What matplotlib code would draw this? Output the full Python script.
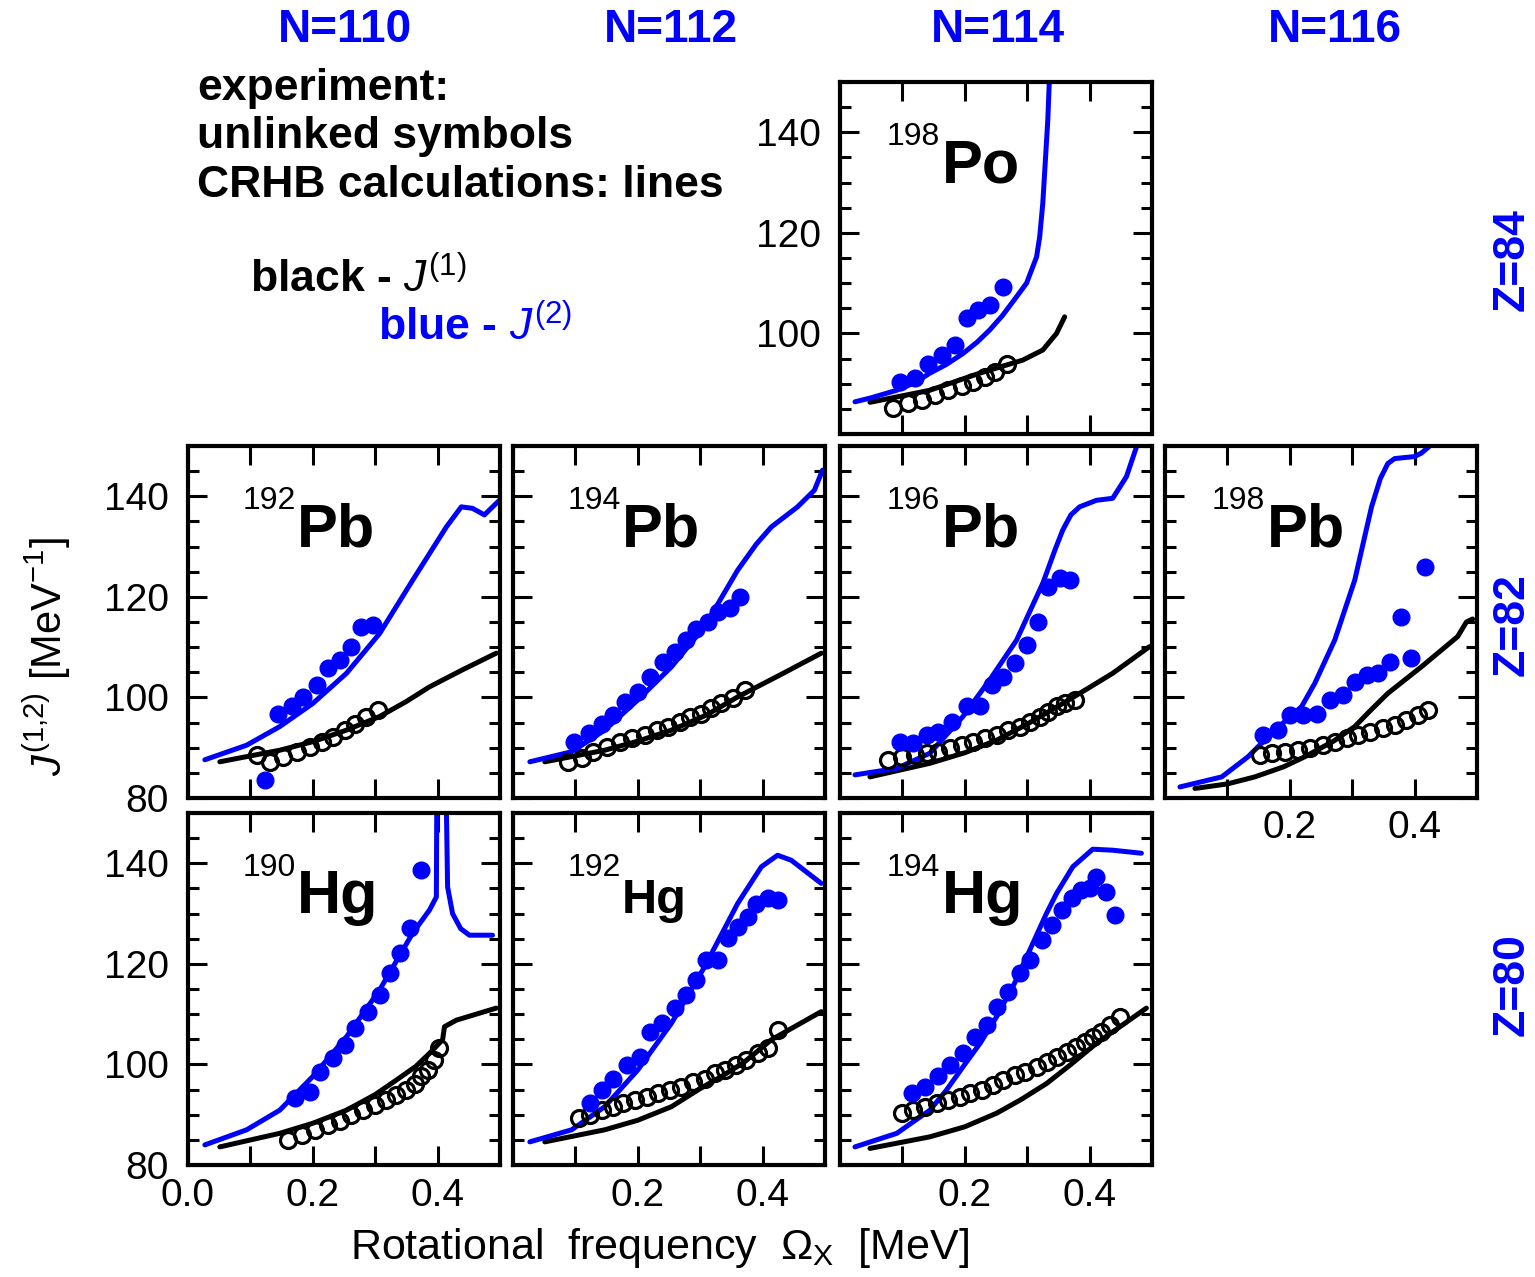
import numpy as np
import matplotlib
matplotlib.use("Agg")
import matplotlib.pyplot as plt
from matplotlib.ticker import MultipleLocator, FixedLocator, FixedFormatter

# =========================
# STYLE
# =========================

plt.rcParams['font.family'] = ['Liberation Sans', 'DejaVu Sans']
plt.rcParams['mathtext.fontset'] = 'custom'
plt.rcParams['mathtext.rm'] = 'Liberation Sans'
plt.rcParams['mathtext.it'] = 'Liberation Sans:italic'
plt.rcParams['mathtext.bf'] = 'Liberation Sans:bold'

BLUE = '#0000ff'

# =========================
# DATA  (x = rotational frequency [MeV], y = J [MeV^-1])
# =========================

# 198Po
po198_c1x = [0.048, 0.144, 0.224, 0.293, 0.325, 0.347, 0.360]
po198_c1y = [86.3, 88.7, 92.1, 94.7, 96.7, 100.0, 103.3]
po198_c2x = [0.024, 0.050, 0.091, 0.120, 0.144, 0.170, 0.197, 0.220, 0.240, 0.260,
             0.283, 0.299, 0.315, 0.320, 0.325, 0.333, 0.336]
po198_c2y = [86.4, 87.2, 88.7, 90.2, 92.1, 93.8, 96.0, 98.3, 100.7, 103.5,
             107.3, 110.0, 115.2, 119.2, 125.9, 142.4, 152.0]
po198_e1x = [0.085, 0.109, 0.131, 0.152, 0.173, 0.195, 0.213, 0.232, 0.248, 0.267]
po198_e1y = [85.1, 86.1, 86.8, 87.8, 88.7, 89.5, 90.4, 91.4, 92.4, 94.0]
po198_e2x = [0.096, 0.120, 0.141, 0.163, 0.184, 0.203, 0.221, 0.240, 0.261]
po198_e2y = [90.4, 91.1, 94.0, 95.7, 97.7, 103.0, 104.7, 105.6, 109.3]

# 192Pb
pb192_c1x = [0.051, 0.147, 0.200, 0.254, 0.307, 0.350, 0.387, 0.440, 0.494]
pb192_c1y = [87.2, 89.5, 91.2, 93.5, 96.2, 99.2, 102.1, 105.5, 108.8]
pb192_c2x = [0.027, 0.094, 0.147, 0.200, 0.254, 0.307, 0.360, 0.414, 0.438, 0.456, 0.475, 0.494, 0.500]
pb192_c2y = [87.6, 90.5, 94.2, 98.8, 104.8, 112.7, 123.3, 133.9, 137.9, 137.6, 136.3, 138.6, 139.3]
pb192_e1x = [0.110, 0.131, 0.153, 0.174, 0.195, 0.214, 0.233, 0.251, 0.267, 0.286, 0.304]
pb192_e1y = [88.5, 87.2, 88.2, 89.2, 90.2, 91.2, 92.2, 93.5, 94.8, 96.2, 97.5]
pb192_e2x = [0.123, 0.145, 0.166, 0.185, 0.206, 0.225, 0.243, 0.262, 0.278, 0.297]
pb192_e2y = [83.6, 96.8, 98.2, 100.1, 102.5, 105.8, 107.4, 110.1, 114.1, 114.4]

# 194Pb
pb194_c1x = [0.051, 0.147, 0.200, 0.254, 0.310, 0.360, 0.430, 0.494]
pb194_c1y = [87.2, 89.5, 91.3, 93.5, 96.5, 100.1, 104.6, 108.8]
pb194_c2x = [0.027, 0.094, 0.147, 0.200, 0.254, 0.307, 0.360, 0.390, 0.414, 0.456, 0.483, 0.496]
pb194_c2y = [87.2, 89.2, 93.5, 99.5, 106.1, 114.1, 125.3, 130.5, 133.9, 137.9, 141.2, 145.2]
pb194_e1x = [0.088, 0.110, 0.128, 0.150, 0.171, 0.190, 0.211, 0.230, 0.248, 0.267, 0.283,
             0.302, 0.318, 0.334, 0.352, 0.371]
pb194_e1y = [87.2, 87.9, 89.2, 90.2, 91.2, 91.9, 92.5, 93.5, 94.2, 95.2, 96.2,
             96.8, 97.8, 98.8, 99.8, 101.5]
pb194_e2x = [0.097, 0.121, 0.142, 0.160, 0.179, 0.200, 0.219, 0.240, 0.259, 0.278, 0.294,
             0.312, 0.328, 0.347, 0.363]
pb194_e2y = [91.2, 92.9, 94.8, 96.5, 99.1, 101.1, 104.1, 107.1, 109.1, 111.4, 113.7,
             115.0, 117.0, 117.7, 120.0]

# 196Pb
pb196_c1x = [0.048, 0.144, 0.200, 0.251, 0.300, 0.357, 0.400, 0.437, 0.496]
pb196_c1y = [84.2, 86.9, 89.0, 91.5, 94.7, 98.8, 102.0, 104.8, 110.1]
pb196_c2x = [0.024, 0.091, 0.144, 0.197, 0.240, 0.283, 0.325, 0.345, 0.357, 0.370, 0.384,
             0.411, 0.437, 0.459, 0.477]
pb196_c2y = [84.6, 85.9, 88.9, 96.2, 103.5, 111.4, 122.7, 129.5, 133.3, 136.3, 137.9,
             139.2, 139.6, 143.9, 150.5]
pb196_e1x = [0.077, 0.099, 0.120, 0.139, 0.157, 0.176, 0.195, 0.213, 0.232, 0.251, 0.269,
             0.288, 0.304, 0.320, 0.333, 0.347, 0.360, 0.376]
pb196_e1y = [87.6, 88.2, 88.5, 88.9, 89.2, 89.9, 90.5, 91.2, 91.9, 92.5, 93.5,
             94.2, 95.2, 96.2, 97.2, 98.2, 98.8, 99.5]
pb196_e2x = [0.096, 0.117, 0.139, 0.157, 0.179, 0.203, 0.224, 0.243, 0.261, 0.280, 0.299,
             0.317, 0.333, 0.352, 0.368]
pb196_e2y = [91.2, 90.9, 92.5, 93.2, 95.2, 98.2, 98.2, 102.5, 104.1, 106.8, 110.4,
             115.0, 122.0, 123.7, 123.3]

# 198Pb
pb198_c1x = [0.048, 0.100, 0.144, 0.190, 0.224, 0.270, 0.304, 0.330, 0.357, 0.411, 0.469, 0.483, 0.493]
pb198_c1y = [81.9, 82.8, 84.2, 86.2, 88.2, 91.3, 94.2, 97.5, 100.8, 106.1, 112.1, 115.0, 115.6]
pb198_c2x = [0.024, 0.091, 0.133, 0.171, 0.219, 0.240, 0.272, 0.304, 0.331, 0.345, 0.357,
             0.368, 0.400, 0.411, 0.429]
pb198_c2y = [82.2, 84.2, 88.2, 92.9, 98.2, 102.8, 111.4, 123.3, 137.9, 143.5, 146.5,
             147.5, 147.9, 148.6, 150.5]
pb198_e1x = [0.152, 0.171, 0.192, 0.213, 0.232, 0.253, 0.272, 0.291, 0.309, 0.328, 0.349,
             0.368, 0.387, 0.405, 0.421]
pb198_e1y = [88.5, 88.9, 89.2, 89.5, 89.9, 90.5, 91.2, 91.9, 92.5, 93.2, 93.9,
             94.5, 95.5, 96.5, 97.5]
pb198_e2x = [0.157, 0.181, 0.200, 0.221, 0.243, 0.264, 0.285, 0.304, 0.323, 0.341, 0.360,
             0.379, 0.395, 0.416]
pb198_e2y = [92.5, 93.5, 96.5, 96.5, 96.8, 99.5, 100.5, 103.1, 104.5, 104.8, 107.1,
             116.0, 107.8, 126.0]

# 190Hg
hg190_c1x = [0.051, 0.147, 0.200, 0.254, 0.300, 0.334, 0.365, 0.387, 0.408, 0.411, 0.430, 0.494]
hg190_c1y = [83.6, 86.3, 88.3, 90.9, 94.0, 96.9, 99.6, 102.2, 104.9, 107.5, 108.8, 111.2]
hg190_c2x = [0.027, 0.094, 0.147, 0.200, 0.254, 0.307, 0.360, 0.387, 0.398, 0.399,
             0.413, 0.416, 0.424, 0.437, 0.451, 0.488]
hg190_c2y = [84.0, 87.0, 90.9, 97.6, 105.5, 114.8, 126.1, 130.7, 133.3, 160.0,
             160.0, 135.3, 130.0, 127.0, 125.7, 125.7]
hg190_e1x = [0.160, 0.182, 0.203, 0.225, 0.243, 0.262, 0.280, 0.299, 0.318, 0.334, 0.350,
             0.363, 0.374, 0.384, 0.395, 0.403]
hg190_e1y = [85.0, 86.0, 87.0, 88.0, 88.8, 89.9, 90.9, 91.9, 92.9, 93.9, 94.9,
             96.2, 97.6, 98.9, 100.9, 103.2]
hg190_e2x = [0.171, 0.195, 0.211, 0.233, 0.251, 0.267, 0.288, 0.307, 0.323, 0.339, 0.355, 0.374]
hg190_e2y = [93.3, 94.6, 98.5, 101.2, 103.9, 107.2, 110.5, 113.8, 118.1, 122.1, 127.1, 138.6]

# 192Hg
hg192_c1x = [0.051, 0.147, 0.200, 0.254, 0.300, 0.334, 0.370, 0.414, 0.494]
hg192_c1y = [84.6, 87.0, 88.9, 91.6, 95.2, 97.6, 100.4, 104.9, 110.5]
hg192_c2x = [0.027, 0.094, 0.147, 0.200, 0.254, 0.307, 0.360, 0.398, 0.424, 0.446, 0.494]
hg192_c2y = [84.6, 87.0, 91.6, 98.9, 108.2, 119.4, 132.0, 139.3, 141.6, 140.6, 136.0]
hg192_e1x = [0.105, 0.123, 0.142, 0.160, 0.176, 0.195, 0.214, 0.232, 0.251, 0.270, 0.288,
             0.307, 0.323, 0.339, 0.358, 0.374, 0.392, 0.408, 0.424]
hg192_e1y = [89.3, 89.9, 90.9, 91.6, 92.3, 92.9, 93.6, 94.3, 94.9, 95.6, 96.6,
             97.2, 98.2, 98.9, 99.9, 100.9, 102.2, 103.2, 106.8]
hg192_e2x = [0.123, 0.142, 0.160, 0.182, 0.203, 0.219, 0.238, 0.259, 0.278, 0.294, 0.310,
             0.328, 0.344, 0.360, 0.376, 0.390, 0.408, 0.424]
hg192_e2y = [92.3, 94.9, 97.2, 99.9, 101.5, 106.5, 108.2, 111.2, 113.8, 116.8, 120.8,
             120.8, 125.1, 127.4, 129.4, 132.0, 133.0, 132.7]

# 194Hg
hg194_c1x = [0.048, 0.144, 0.200, 0.251, 0.290, 0.331, 0.370, 0.411, 0.491]
hg194_c1y = [83.3, 85.6, 87.6, 90.3, 93.0, 96.2, 100.0, 104.2, 111.2]
hg194_c2x = [0.024, 0.091, 0.144, 0.170, 0.197, 0.225, 0.251, 0.280, 0.304, 0.330, 0.347,
             0.373, 0.405, 0.437, 0.483]
hg194_c2y = [83.6, 86.3, 90.9, 94.8, 99.5, 104.3, 109.5, 116.2, 122.7, 129.8, 134.0,
             139.3, 142.8, 142.6, 142.0]
hg194_e1x = [0.099, 0.117, 0.136, 0.155, 0.173, 0.192, 0.208, 0.227, 0.245, 0.261, 0.280,
             0.296, 0.315, 0.331, 0.347, 0.363, 0.379, 0.392, 0.405, 0.419, 0.432, 0.448]
hg194_e1y = [90.3, 90.9, 91.6, 92.3, 92.9, 93.6, 94.3, 94.9, 95.9, 96.9, 97.9,
             98.5, 99.5, 100.5, 101.5, 102.5, 103.5, 104.5, 105.5, 106.5, 107.8, 109.5]
hg194_e2x = [0.115, 0.136, 0.157, 0.176, 0.197, 0.216, 0.235, 0.251, 0.269, 0.288, 0.304,
             0.323, 0.339, 0.355, 0.371, 0.387, 0.400, 0.411, 0.427, 0.440]
hg194_e2y = [94.3, 95.6, 97.6, 99.9, 102.2, 105.5, 107.8, 111.5, 114.5, 118.1, 120.8,
             124.7, 127.7, 130.7, 133.0, 134.7, 135.0, 137.3, 134.3, 129.7]

# panel grid: (row, col, mass, element, data)
panels = [
    (0, 2, '198', 'Po', po198_c1x, po198_c1y, po198_c2x, po198_c2y, po198_e1x, po198_e1y, po198_e2x, po198_e2y),
    (1, 0, '192', 'Pb', pb192_c1x, pb192_c1y, pb192_c2x, pb192_c2y, pb192_e1x, pb192_e1y, pb192_e2x, pb192_e2y),
    (1, 1, '194', 'Pb', pb194_c1x, pb194_c1y, pb194_c2x, pb194_c2y, pb194_e1x, pb194_e1y, pb194_e2x, pb194_e2y),
    (1, 2, '196', 'Pb', pb196_c1x, pb196_c1y, pb196_c2x, pb196_c2y, pb196_e1x, pb196_e1y, pb196_e2x, pb196_e2y),
    (1, 3, '198', 'Pb', pb198_c1x, pb198_c1y, pb198_c2x, pb198_c2y, pb198_e1x, pb198_e1y, pb198_e2x, pb198_e2y),
    (2, 0, '190', 'Hg', hg190_c1x, hg190_c1y, hg190_c2x, hg190_c2y, hg190_e1x, hg190_e1y, hg190_e2x, hg190_e2y),
    (2, 1, '192', 'Hg', hg192_c1x, hg192_c1y, hg192_c2x, hg192_c2y, hg192_e1x, hg192_e1y, hg192_e2x, hg192_e2y),
    (2, 2, '194', 'Hg', hg194_c1x, hg194_c1y, hg194_c2x, hg194_c2y, hg194_e1x, hg194_e1y, hg194_e2x, hg194_e2y),
]

col_titles = ['N=110', 'N=112', 'N=114', 'N=116']
row_titles = ['Z=84', 'Z=82', 'Z=80']

# =========================
# LAYOUT (pixels of a 1535x1277 canvas)
# =========================

W, H = 1535, 1277
col_left = [188, 513, 840, 1165]
row_bottom = [434, 798, 1165]
ax_w, ax_h = 312, 352

fig = plt.figure(figsize=(W / 100, H / 100), dpi=100)

for (r, c, mass, elem, c1x, c1y, c2x, c2y, e1x, e1y, e2x, e2y) in panels:
    ax = fig.add_axes([col_left[c] / W, 1 - row_bottom[r] / H, ax_w / W, ax_h / H])
    ax.plot(c1x, c1y, color='black', lw=3.6, solid_capstyle='round', solid_joinstyle='round')
    ax.plot(c2x, c2y, color=BLUE, lw=3.6, solid_capstyle='round', solid_joinstyle='round')
    ax.plot(e1x, e1y, 'o', ms=11.5, mfc='none', mec='black', mew=2.3)
    ax.plot(e2x, e2y, 'o', ms=12, mfc=BLUE, mec=BLUE)

    ax.set_xlim(0, 0.5)
    ax.set_ylim(80, 150)

    ax.xaxis.set_major_locator(FixedLocator([0.0, 0.1, 0.2, 0.3, 0.4]))
    ax.yaxis.set_major_locator(FixedLocator([80, 100, 120, 140]))
    ax.yaxis.set_minor_locator(MultipleLocator(5))
    ax.tick_params(which='both', direction='in', top=True, right=True, width=2.2,
                   labelsize=28)
    ax.tick_params(axis='x', which='major', length=14, pad=9)
    ax.tick_params(axis='y', which='major', length=14, pad=14)
    ax.tick_params(axis='y', which='minor', length=8)
    for s in ax.spines.values():
        s.set_linewidth(3.0)

    # tick labels only on outer panels
    if c == 0 and r == 2:
        xl = ['0.0', '', '0.2', '', '0.4']
    elif r == 2 or (r == 1 and c == 3):
        xl = ['', '', '0.2', '', '0.4']
    else:
        xl = [''] * 5
    ax.xaxis.set_major_formatter(FixedFormatter(xl))

    if c == 0:
        yl = ['80', '100', '120', '140']
    elif r == 0:
        yl = ['', '100', '120', '140']
    else:
        yl = [''] * 4
    ax.yaxis.set_major_formatter(FixedFormatter(yl))

    # nucleus label
    big = 35 if (elem == 'Hg' and mass == '192') else 44
    ex = 0.35 if c < 2 else 0.325
    ax.text(ex, 0.715, elem, transform=ax.transAxes, fontsize=big,
            fontweight='bold', ha='left', va='baseline')
    ax.text(ex - 0.005, 0.82, mass, transform=ax.transAxes, fontsize=23,
            ha='right', va='baseline')

# column / row headers
col_centers = [345, 671, 998, 1335]
for x, t in zip(col_centers, col_titles):
    fig.text(x / W, 1 - 30 / H, t, color=BLUE, fontsize=33, fontweight='bold',
             ha='center', va='center')
row_centers = [260, 625, 985]
for y, t in zip(row_centers, row_titles):
    fig.text(1512 / W, 1 - y / H, t, color=BLUE, fontsize=32, fontweight='bold',
             rotation=90, ha='center', va='center')

# legend text
fig.text(197 / W, 1 - 100 / H, 'experiment:', fontsize=32, fontweight='bold',
         va='baseline')
fig.text(197 / W, 1 - 148 / H, 'unlinked symbols', fontsize=32, fontweight='bold',
         va='baseline')
fig.text(197 / W, 1 - 197 / H, 'CRHB calculations: lines', fontsize=32,
         fontweight='bold', va='baseline')
fig.text(250 / W, 1 - 292 / H, r'black - $J^{(1)}$', fontsize=32,
         fontweight='bold', va='baseline')
fig.text(378 / W, 1 - 340 / H, r'blue - $J^{(2)}$', fontsize=32,
         fontweight='bold', va='baseline', color=BLUE)

# axis titles
fig.text(47 / W, 1 - 657 / H, r'$J^{(1{,}2)}$ [MeV$^{-1}$]', fontsize=30,
         rotation=90, ha='center', va='center')
fig.text(660 / W, 1 - 1248 / H,
         r'Rotational  frequency  $\Omega_{\mathrm{X}}$  [MeV]',
         fontsize=31, ha='center', va='center')

fig.savefig('out.png', dpi=100)
